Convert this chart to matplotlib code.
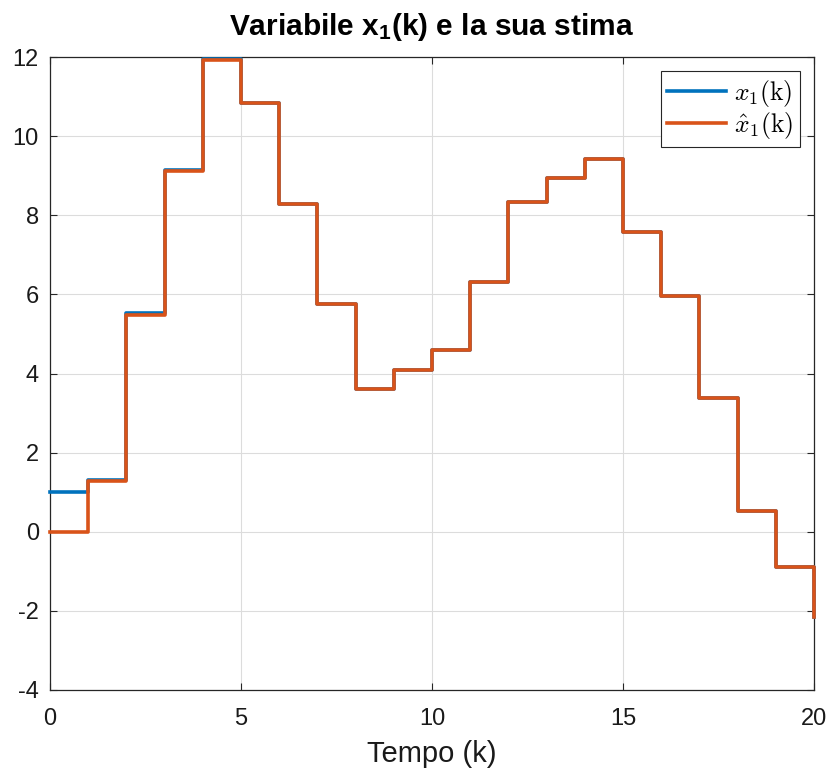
import matplotlib
matplotlib.use("Agg")
import matplotlib.pyplot as plt
from matplotlib.font_manager import FontProperties

plt.rcParams['font.family'] = ['Liberation Sans', 'DejaVu Sans']
plt.rcParams['axes.unicode_minus'] = False
plt.rcParams['mathtext.fontset'] = 'custom'
plt.rcParams['mathtext.rm'] = 'Liberation Sans'
plt.rcParams['mathtext.bf'] = 'Liberation Sans:bold'
plt.rcParams['mathtext.it'] = 'Liberation Sans:italic'

k = list(range(21))
x1 = [1.0, 1.31, 5.53, 9.15, 11.95, 10.84, 8.29, 5.76, 3.61, 4.09, 4.60,
      6.31, 8.33, 8.95, 9.41, 7.58, 5.97, 3.37, 0.52, -0.89, -2.15]
x1_hat = [0.0, 1.28, 5.48, 9.12, 11.92, 10.84, 8.29, 5.76, 3.61, 4.09, 4.60,
          6.31, 8.33, 8.95, 9.41, 7.58, 5.97, 3.37, 0.52, -0.89, -2.15]
xticks = [0, 5, 10, 15, 20]
yticks = [-4, -2, 0, 2, 4, 6, 8, 10, 12]

fig = plt.figure(figsize=(8.29, 7.72), dpi=100)
ax = fig.add_axes([50/829, 1-690/772, (814-50)/829, (690-57)/772])

ax.step(k, x1, where='post', color='#0072BD', lw=2.6, label=r'$x_1(\mathrm{k})$',
        clip_on=False, zorder=3)
ax.step(k, x1_hat, where='post', color='#D95319', lw=2.6, label=r'$\hat{x}_1(\mathrm{k})$',
        clip_on=False, zorder=4)

ax.set_xlim(0, 20)
ax.set_ylim(-4, 12)
ax.set_xticks(xticks)
ax.set_yticks(yticks)
ax.tick_params(direction='in', top=True, right=True, labelsize=17, length=5,
               width=0.8, colors='#262626')
ax.tick_params(axis='x', labelcolor='#1a1a1a', pad=13)
ax.tick_params(axis='y', labelcolor='#1a1a1a', pad=8)
ax.grid(True, color='#DCDCDC', lw=0.8)
for s in ax.spines.values():
    s.set_color('#262626')
    s.set_linewidth(0.9)
    s.set_zorder(2.5)

ax.set_xlabel('Tempo (k)', fontsize=21, labelpad=7, color='#1a1a1a')

ax.set_title(r'Variabile x$_{\mathbf{1}}$(k) e la sua stima', fontsize=21.5,
             fontweight='bold', pad=16)

leg = ax.legend(loc='upper right', prop=FontProperties(size=18.5, math_fontfamily='cm'),
                fancybox=False, edgecolor='#262626', framealpha=1,
                borderpad=0.25, handlelength=2.3, handletextpad=0.3,
                labelspacing=0.05, borderaxespad=0.55)
leg.get_frame().set_linewidth(0.8)
leg.set_zorder(6)

fig.savefig('out.png', dpi=100)
